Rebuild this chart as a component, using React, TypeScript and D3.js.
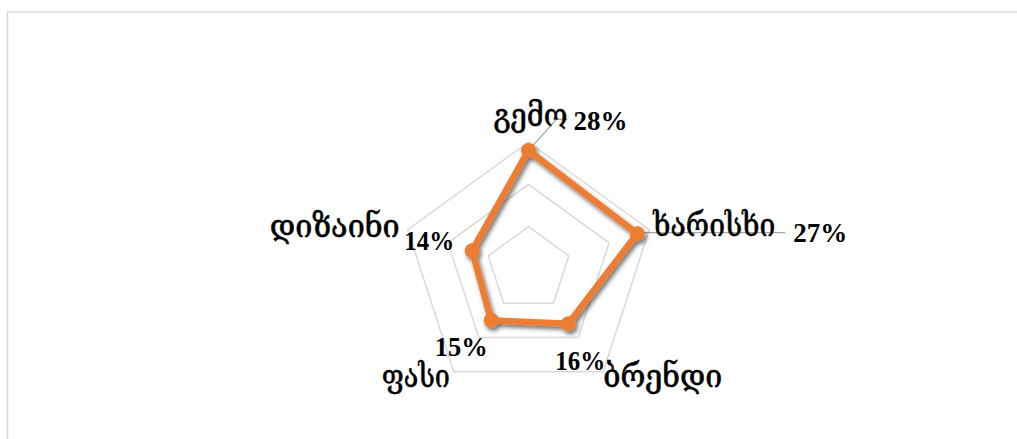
import React from "react";
import * as d3 from "d3";

const categories = ["გემო", "ხარისხი", "ბრენდი", "ფასი", "დიზაინი"];
const values = [28, 27, 16, 15, 14];
const valueLabels = ["28%", "27%", "16%", "15%", "14%"];
const gridLevels = [10, 20, 30];

const W = 1017;
const H = 439;
const cx = 528.5;
const cy = 269;
const rMax = 127;
const ORANGE = "#ED7D31";
const GRID = "#d9d9d9";

// label layout (offsets relative to computed positions)
const catLayout = [
  { dx: 2, dy: -16, anchor: "middle", len: 74 },
  { dx: 4, dy: 6, anchor: "start", len: 122 },
  { dx: 0, dy: 15, anchor: "start", len: 119 },
  { dx: -4, dy: 15, anchor: "end", len: 68 },
  { dx: -8, dy: 7, anchor: "end", len: 130 },
];
const valLayout = [
  { dx: 45, dy: -20, anchor: "start", len: 54 },
  { dx: 156, dy: 8, anchor: "start", len: 54 },
  { dx: 12, dy: 46, anchor: "middle", len: 50 },
  { dx: -30, dy: 36, anchor: "middle", len: 53 },
  { dx: -18, dy: -1, anchor: "end", len: 50 },
];

export default function App() {
  const r = d3.scaleLinear().domain([0, 30]).range([0, rMax]);
  const angle = (i: number) => (-Math.PI / 2) + (2 * Math.PI * i) / categories.length;
  const pt = (i: number, v: number): [number, number] => [
    cx + r(v) * Math.cos(angle(i)),
    cy + r(v) * Math.sin(angle(i)),
  ];
  const closed = d3.line().curve(d3.curveLinearClosed);
  const pts = values.map((v, i) => pt(i, v));

  const p0 = pts[0];
  const p1 = pts[1];

  return (
    <svg
      width={W}
      height={H}
      style={{ position: "absolute", left: 0, top: 0, background: "#fff" }}
    >
      <defs>
        <filter id="sh" x="-20%" y="-20%" width="140%" height="140%">
          <feDropShadow dx="2" dy="3" stdDeviation="2.2" floodColor="#000" floodOpacity="0.55" />
        </filter>
      </defs>
      <rect x={7.5} y={12} width={W} height={H} fill="#fff" stroke={GRID} strokeWidth={1.5} />
      {gridLevels.map((g) => (
        <path
          key={g}
          d={closed(categories.map((_, i) => pt(i, g))) || ""}
          fill="none"
          stroke={GRID}
          strokeWidth={1.5}
        />
      ))}
      {/* leader lines */}
      <polyline
        points={`${p0[0]},${p0[1]} ${p0[0] + 28},${p0[1] - 31} ${p0[0] + 39},${p0[1] - 31}`}
        fill="none"
        stroke="#a6a6a6"
        strokeWidth={1.2}
      />
      <line x1={p1[0]} y1={p1[1] - 1} x2={p1[0] + 148} y2={p1[1] - 1} stroke="#a6a6a6" strokeWidth={1.2} />
      <g filter="url(#sh)">
        <path d={closed(pts) || ""} fill="none" stroke={ORANGE} strokeWidth={6.5} strokeLinejoin="round" />
        {pts.map((p, i) => (
          <circle key={i} cx={p[0]} cy={p[1]} r={7.5} fill={ORANGE} />
        ))}
      </g>
      {categories.map((c, i) => {
        const [x, y] = pt(i, 30);
        const L = catLayout[i];
        return (
          <text
            key={c}
            x={x + L.dx}
            y={y + L.dy}
            textAnchor={L.anchor as any}
            fontFamily="'DejaVu Serif', serif"
            fontSize={31}
            textLength={L.len}
            lengthAdjust="spacingAndGlyphs"
            fill="#000"
            stroke="#000"
            strokeWidth={0.6}
          >
            {c}
          </text>
        );
      })}
      {valueLabels.map((t, i) => {
        const [x, y] = pts[i];
        const L = valLayout[i];
        return (
          <text
            key={t}
            x={x + L.dx}
            y={y + L.dy}
            textAnchor={L.anchor as any}
            fontFamily="'Liberation Serif', serif"
            fontWeight="bold"
            fontSize={28}
            textLength={L.len}
            lengthAdjust="spacingAndGlyphs"
            fill="#000"
          >
            {t}
          </text>
        );
      })}
    </svg>
  );
}
